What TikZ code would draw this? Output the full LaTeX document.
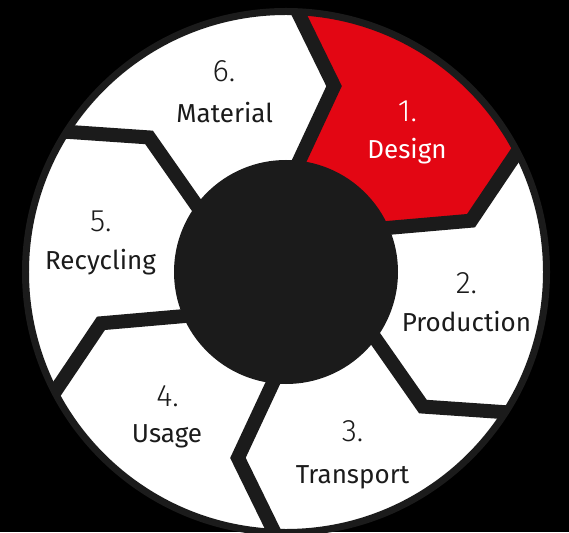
\documentclass[tikz,border=0pt]{standalone}
\usepackage{fontspec}
\setmainfont{Fira Sans}
\newfontfamily\numfont{Fira Sans Light}
\usetikzlibrary{calc,positioning}
\definecolor{ringgray}{HTML}{1B1B1B}
\definecolor{designred}{HTML}{E30613}

\begin{document}
\begin{tikzpicture}[x=1pt,y=1pt]
    \tikzstyle{gap} = [draw=ringgray, line width=14pt, line join=miter, miter limit=10]
    \tikzstyle{stage} = [text=ringgray, font=\fontsize{26}{30}\selectfont,
    inner sep=0pt, anchor=base]
    \tikzstyle{num} = [stage, font=\numfont\fontsize{31}{36}\selectfont]

    % Background
    \fill[black] (-286,-260) rectangle (283,272);
    \useasboundingbox (-286,-260) rectangle (283,272);

    % Disc
    \fill[white] (0,0) circle (261);

    % Stage 1
    \fill[designred] (85.5:100) -- (75.5:192) -- (87:261)
      arc[start angle=87, end angle=27, radius=261]
      -- (15.5:192) -- (25.5:100) -- cycle;

    % Gaps between stages
    \begin{scope}
      \clip (0,0) circle (262);
      \foreach \a in {0,60,...,300}
        \draw[gap] (85.5-\a:100) -- (75.5-\a:192)
          -- ($(75.5-\a:192)!1.25!(87-\a:257)$);
    \end{scope}

    % Ring and hub
    \draw[ringgray, line width=7pt] (0,0) circle (260.5);
    \fill[ringgray] (0,0) circle (112);

    % Labels
    \node[num, text=white] (n1) at (121.5,150.3) {1.};
    \node[stage, text=white] (design) at (121,113.7) {Design};
    \node[num] (n2) at (180.5,-21.3) {2.};
    \node[stage] (production) at (180.5,-59) {Production};
    \node[num] (n3) at (66.5,-169.7) {3.};
    \node[stage] (transport) at (66.5,-211.3) {Transport};
    \node[num] (n4) at (-118.5,-134) {4.};
    \node[stage] (usage) at (-119,-170) {Usage};
    \node[num] (n5) at (-185.2,40) {5.};
    \node[stage] (recycling) at (-185.5,2.7) {Recycling};
    \node[num] (n6) at (-62,190.3) {6.};
    \node[stage] (material) at (-61.3,149.3) {Material};

\end{tikzpicture}
\end{document}
